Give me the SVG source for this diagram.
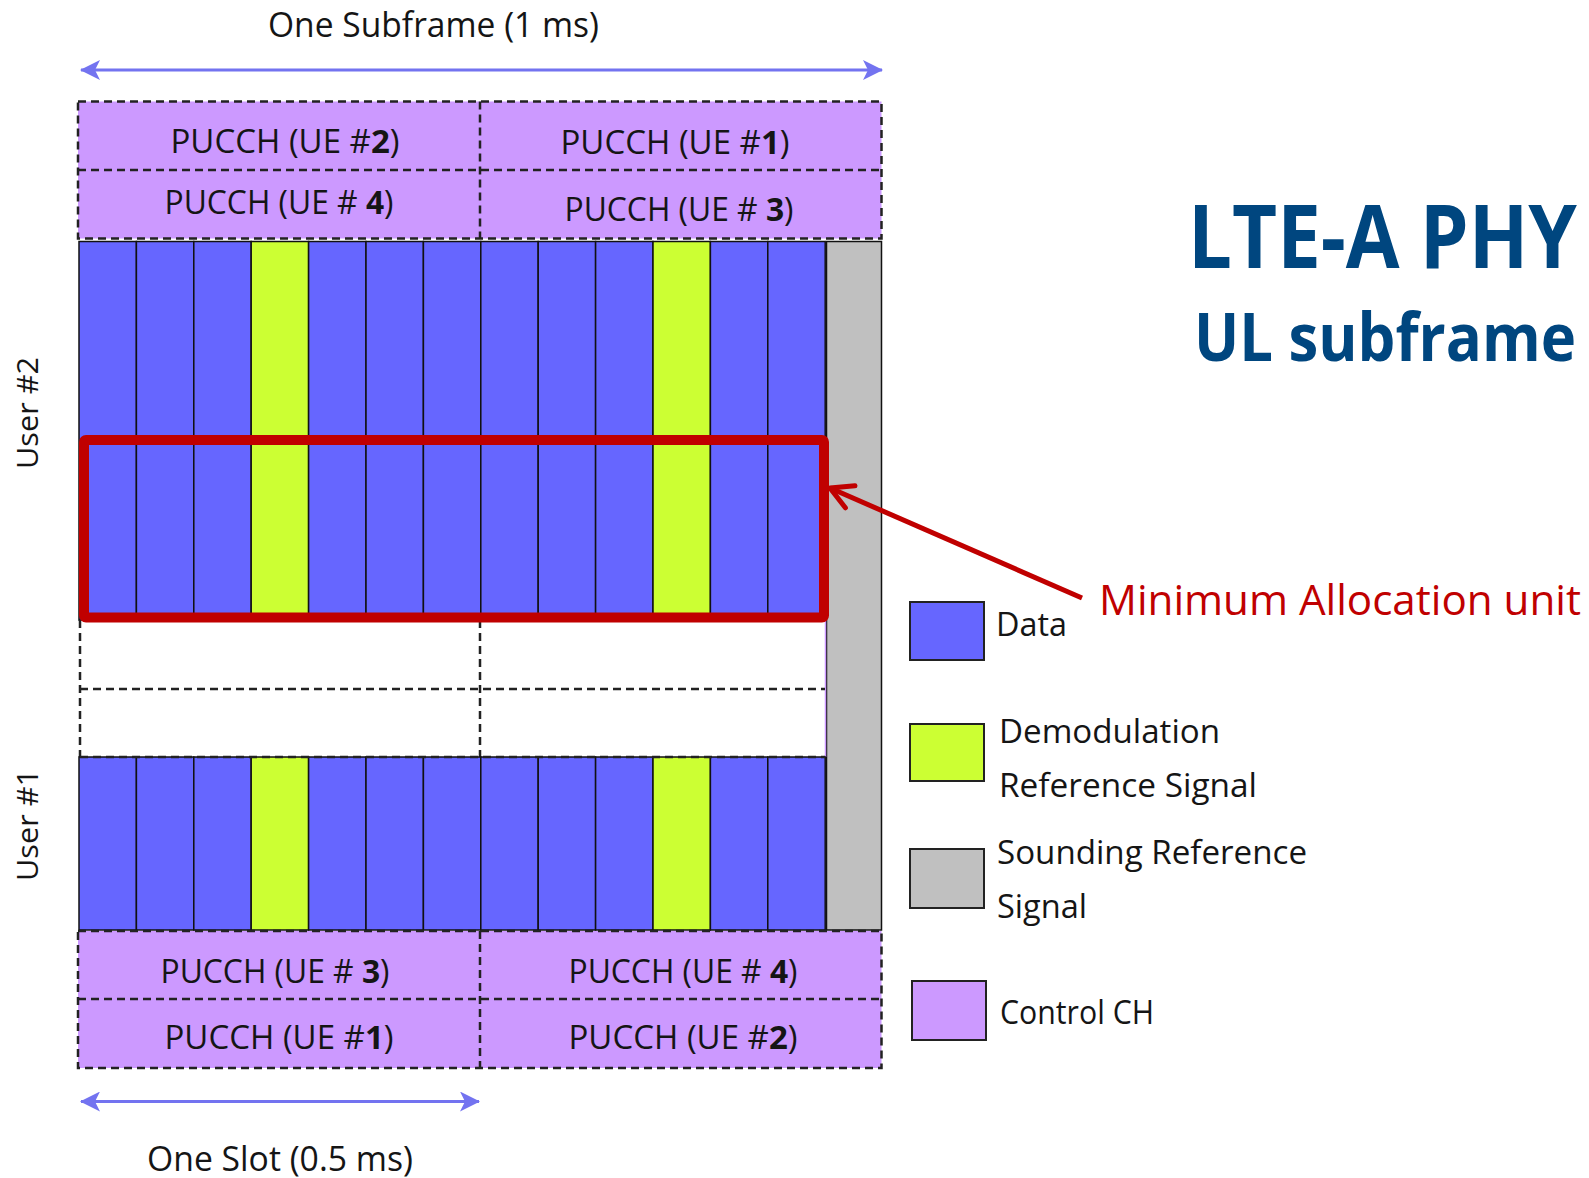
<svg xmlns="http://www.w3.org/2000/svg" width="1589" height="1178" viewBox="0 0 1589 1178">
<style>
.bg{fill:#ffffff}
.ctl{fill:#CC99FF}
.dash{fill:none;stroke:#222;stroke-width:2.5;stroke-dasharray:8 5}
.data{fill:#6666FF;stroke:#111;stroke-width:1.5}
.dmrs{fill:#CCFF33;stroke:#111;stroke-width:1.5}
.srs{fill:#C0C0C0;stroke:#111;stroke-width:1.5}
.leg{stroke:#222;stroke-width:2}
.t{font-family:"Open Sans","Noto Sans","DejaVu Sans",sans-serif;fill:#151515}
.pu{font-size:32px;text-anchor:middle}
.b{font-weight:700}
.lg{font-size:33px}
.title{font-family:"Open Sans","Noto Sans","DejaVu Sans",sans-serif;font-weight:700;fill:#00467F}
.blue{stroke:#7373F0;stroke-width:3;fill:none}
.red{stroke:#C00000;fill:none}
</style>
<defs>
<marker id="bh" markerUnits="userSpaceOnUse" viewBox="0 0 20 20" refX="19" refY="10" markerWidth="20" markerHeight="20" orient="auto-start-reverse">
<path d="M0,0 L20,10 L0,20 L5,10 Z" fill="#7373F0"/>
</marker>
<marker id="rh" markerUnits="userSpaceOnUse" viewBox="0 0 30 30" refX="26" refY="15" markerWidth="30" markerHeight="30" orient="auto">
<path d="M4,3 L26,15 L4,27" fill="none" stroke="#C00000" stroke-width="5" stroke-linecap="round" stroke-linejoin="round"/>
</marker>
</defs>
<rect class="bg" x="0" y="0" width="1589" height="1178"/>

<g id="title">
<text class="title" transform="translate(1188,268) scale(1,1.1)" x="0" y="0" font-size="80" textLength="389" lengthAdjust="spacingAndGlyphs">LTE-A PHY</text>
<text class="title" transform="translate(1194,361) scale(1,1.12)" x="0" y="0" font-size="59" textLength="382" lengthAdjust="spacingAndGlyphs">UL subframe</text>
</g>

<g id="pucch-top">
<rect class="ctl" x="78" y="101.5" width="803.5" height="137"/>
<rect class="dash" x="78" y="101.5" width="803.5" height="137"/>
<line class="dash" x1="78" y1="170" x2="881.5" y2="170"/>
<line class="dash" x1="480" y1="101.5" x2="480" y2="238.5"/>
<text class="t pu" x="285" y="153" textLength="229" lengthAdjust="spacingAndGlyphs">PUCCH (UE #<tspan class="b">2</tspan>)</text>
<text class="t pu" x="675" y="154" textLength="229" lengthAdjust="spacingAndGlyphs">PUCCH (UE #<tspan class="b">1</tspan>)</text>
<text class="t pu" x="279" y="214" textLength="229" lengthAdjust="spacingAndGlyphs">PUCCH (UE # <tspan class="b">4</tspan>)</text>
<text class="t pu" x="679" y="221" textLength="229" lengthAdjust="spacingAndGlyphs">PUCCH (UE # <tspan class="b">3</tspan>)</text>
</g>

<g id="srs-column">
<rect class="srs" x="826.5" y="241.5" width="55" height="688.5"/>
</g>

<g id="user2-data">
<rect class="data" x="79" y="241.5" width="57.4" height="378.5"/>
<rect class="data" x="136.4" y="241.5" width="57.4" height="378.5"/>
<rect class="data" x="193.8" y="241.5" width="57.4" height="378.5"/>
<rect class="dmrs" x="251.2" y="241.5" width="57.4" height="378.5"/>
<rect class="data" x="308.6" y="241.5" width="57.4" height="378.5"/>
<rect class="data" x="366" y="241.5" width="57.4" height="378.5"/>
<rect class="data" x="423.4" y="241.5" width="57.4" height="378.5"/>
<rect class="data" x="480.8" y="241.5" width="57.4" height="378.5"/>
<rect class="data" x="538.2" y="241.5" width="57.4" height="378.5"/>
<rect class="data" x="595.6" y="241.5" width="57.4" height="378.5"/>
<rect class="dmrs" x="653" y="241.5" width="57.4" height="378.5"/>
<rect class="data" x="710.4" y="241.5" width="57.4" height="378.5"/>
<rect class="data" x="767.8" y="241.5" width="57.4" height="378.5"/>
</g>

<g id="empty-rows">
<line x1="825.5" y1="620" x2="825.5" y2="757" stroke="#CC99FF" stroke-width="1.5"/>
<line class="dash" x1="80" y1="620" x2="80" y2="757"/>
<line class="dash" x1="480" y1="620" x2="480" y2="757"/>
<line class="dash" x1="80" y1="689" x2="825" y2="689"/>
</g>

<g id="user1-data">
<rect class="data" x="79" y="757" width="57.4" height="173"/>
<rect class="data" x="136.4" y="757" width="57.4" height="173"/>
<rect class="data" x="193.8" y="757" width="57.4" height="173"/>
<rect class="dmrs" x="251.2" y="757" width="57.4" height="173"/>
<rect class="data" x="308.6" y="757" width="57.4" height="173"/>
<rect class="data" x="366" y="757" width="57.4" height="173"/>
<rect class="data" x="423.4" y="757" width="57.4" height="173"/>
<rect class="data" x="480.8" y="757" width="57.4" height="173"/>
<rect class="data" x="538.2" y="757" width="57.4" height="173"/>
<rect class="data" x="595.6" y="757" width="57.4" height="173"/>
<rect class="dmrs" x="653" y="757" width="57.4" height="173"/>
<rect class="data" x="710.4" y="757" width="57.4" height="173"/>
<rect class="data" x="767.8" y="757" width="57.4" height="173"/>
<line class="dash" x1="80" y1="757" x2="825" y2="757"/>
</g>

<g id="pucch-bottom">
<rect class="ctl" x="78" y="931" width="803.5" height="137"/>
<rect class="dash" x="78" y="931" width="803.5" height="137"/>
<line class="dash" x1="78" y1="999" x2="881.5" y2="999"/>
<line class="dash" x1="480" y1="931" x2="480" y2="1068"/>
<text class="t pu" x="275" y="983" textLength="229" lengthAdjust="spacingAndGlyphs">PUCCH (UE # <tspan class="b">3</tspan>)</text>
<text class="t pu" x="683" y="983" textLength="229" lengthAdjust="spacingAndGlyphs">PUCCH (UE # <tspan class="b">4</tspan>)</text>
<text class="t pu" x="279" y="1049" textLength="229" lengthAdjust="spacingAndGlyphs">PUCCH (UE #<tspan class="b">1</tspan>)</text>
<text class="t pu" x="683" y="1049" textLength="229" lengthAdjust="spacingAndGlyphs">PUCCH (UE #<tspan class="b">2</tspan>)</text>
</g>

<g id="min-alloc-unit">
<rect x="84" y="440" width="740" height="177.5" fill="none" stroke="#C00000" stroke-width="10" rx="2"/>
<text x="1099" y="615" font-family="'Open Sans','Noto Sans','DejaVu Sans',sans-serif" font-size="42" fill="#C00000" textLength="482" lengthAdjust="spacingAndGlyphs">Minimum Allocation unit</text>
</g>

<g id="user-labels">
<text class="t" font-size="30" text-anchor="middle" transform="translate(38,413) rotate(-90)" textLength="112" lengthAdjust="spacingAndGlyphs">User #2</text>
<text class="t" font-size="30" text-anchor="middle" transform="translate(38,825) rotate(-90)" textLength="112" lengthAdjust="spacingAndGlyphs">User #1</text>
</g>

<g id="dimension-labels">
<text class="t" x="268" y="37" font-size="34" textLength="331" lengthAdjust="spacingAndGlyphs">One Subframe (1 ms)</text>
<text class="t" x="147" y="1171" font-size="34" textLength="266" lengthAdjust="spacingAndGlyphs">One Slot (0.5 ms)</text>
</g>

<g id="legend">
<rect class="leg" x="910" y="602" width="74" height="58" fill="#6666FF"/>
<text class="t lg" x="996" y="636" textLength="71" lengthAdjust="spacingAndGlyphs">Data</text>
<rect class="leg" x="910" y="724" width="74" height="57" fill="#CCFF33"/>
<text class="t lg" x="999" y="743" textLength="221" lengthAdjust="spacingAndGlyphs">Demodulation</text>
<text class="t lg" x="999" y="797" textLength="258" lengthAdjust="spacingAndGlyphs">Reference Signal</text>
<rect class="leg" x="910" y="849" width="74" height="59" fill="#C0C0C0"/>
<text class="t lg" x="997" y="864" textLength="310" lengthAdjust="spacingAndGlyphs">Sounding Reference</text>
<text class="t lg" x="997" y="918" textLength="90" lengthAdjust="spacingAndGlyphs">Signal</text>
<rect class="leg" x="912" y="981" width="74" height="59" fill="#CC99FF"/>
<text class="t lg" x="1000" y="1024" textLength="154" lengthAdjust="spacingAndGlyphs">Control CH</text>
</g>

<g id="connectors">
<line class="blue" x1="81" y1="70" x2="882" y2="70" marker-start="url(#bh)" marker-end="url(#bh)"/>
<line class="blue" x1="81" y1="1101.5" x2="479" y2="1101.5" marker-start="url(#bh)" marker-end="url(#bh)"/>
<line class="red" x1="1082" y1="598" x2="830" y2="488" stroke-width="5" marker-end="url(#rh)"/>
</g>
</svg>
